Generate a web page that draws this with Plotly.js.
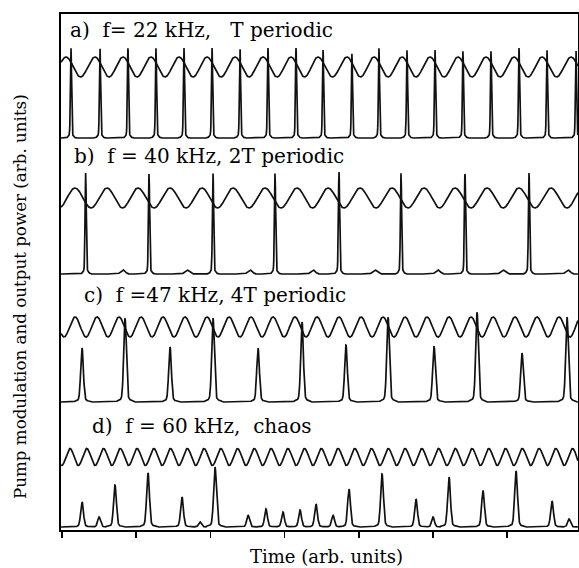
<!DOCTYPE html>
<html><head><meta charset="utf-8">
<script src="https://cdn.plot.ly/plotly-3.0.1.min.js"></script>
<style>html,body{margin:0;padding:0;background:#fff}</style>
</head><body><div id="chart" style="width:579px;height:568px"></div>
<script>
// ---------- data (time in arb. units, tick spacing = 1; amplitudes in arb. units) ----------
const panelLabels = [
  "a)\u00A0\u00A0f= 22 kHz,\u00A0\u00A0\u00A0T periodic",
  "b)\u00A0\u00A0f = 40 kHz, 2T periodic",
  "c)\u00A0\u00A0f =47 kHz, 4T periodic",
  "d)\u00A0\u00A0f = 60 kHz,\u00A0\u00A0chaos"
];
const xTitle = "Time (arb. units)";
const yTitle = "Pump modulation and output power (arb. units)";
const xTickValues = [0, 1, 2, 3, 4, 5, 6];

// a) 22 kHz, T periodic
const aModPeaks = [0.054,0.445,0.822,1.199,1.577,1.954,2.332,2.709,3.086,3.450,3.841,4.205,4.582,4.960,5.337,5.714,6.092,6.469,6.860];
const aSpikeTimes = [0.121,0.512,0.889,1.267,1.644,2.022,2.399,2.776,3.154,3.518,3.908,4.272,4.650,5.027,5.404,5.782,6.159,6.536,6.927];
const aSpikeHeights = [90,90,90,90,90,90,90,90,90,88,85,90,88,88,88,88,90,88,88];

// b) 40 kHz, 2T periodic
const bModPeaks = [0.175,0.606,1.024,1.456,1.887,2.305,2.736,3.167,3.585,4.016,4.447,4.879,5.296,5.728,6.159,6.590];
const bSpikeTimes = [0.319,1.173,2.035,2.871,3.733,4.569,5.431,6.294];
const bSpikeHeights = [101,101,101,101,103,101,101,101];
const bBumpTimes = [0.822,1.685,2.534,3.383,4.218,5.067,5.943,6.819];
const bBumpHeights = [4,4,4,4,4,4,4,4];

// c) 47 kHz, 4T periodic
const cModPeaks = [0.175,0.472,0.768,1.065,1.361,1.658,1.954,2.251,2.547,2.844,3.140,3.437,3.733,4.030,4.326,4.623,4.919,5.216,5.512,5.809,6.105,6.402,6.698];
const cSpikeTimes = [0.270,0.849,1.456,2.035,2.642,3.235,3.827,4.394,5.013,5.593,6.199,6.806];
const cSpikeHeights = [54,84,55,84,54,80,57,85,56,90,49,85];

// d) 60 kHz, chaos
const dModPeaks = [0.108,0.333,0.559,0.785,1.011,1.237,1.462,1.688,1.914,2.140,2.365,2.591,2.817,3.043,3.268,3.494,3.720,3.946,4.171,4.397,4.623,4.849,5.074,5.300,5.526,5.752,5.977,6.203,6.429,6.655,6.880];
const dSpikeTimes = [0.270,0.499,0.714,1.159,1.617,1.860,2.062,2.507,2.749,2.978,3.208,3.423,3.652,3.868,4.313,4.771,5.000,5.216,5.674,6.119,6.604,6.833];
const dSpikeHeights = [25,10,42,54,30,5,60,12,18,15,17,23,12,38,53,28,10,50,36,56,26,8];

// ---------- layout constants (positions / styles) ----------
const X0 = -0.0135, X1 = 6.954;           // x axis range
const STEP = 0.0027;                        // sampling step
const panels = [
  {mod: aModPeaks, st: aSpikeTimes, sh: aSpikeHeights, base: 392, mid: 463, amp: 10, sig: 0.0075, lab: [0.08, 500]},
  {mod: bModPeaks, st: bSpikeTimes, sh: bSpikeHeights, base: 256, mid: 332, amp: 10, sig: 0.0080, lab: [0.135, 374],
   bt: bBumpTimes, bh: bBumpHeights},
  {mod: cModPeaks, st: cSpikeTimes, sh: cSpikeHeights, base: 128, mid: 203, amp: 10, sig: 0.0175, lab: [0.27, 235]},
  {mod: dModPeaks, st: dSpikeTimes, sh: dSpikeHeights, base: 3,   mid: 73,  amp: 8.5, sig: 0.0185, lab: [0.377, 104]}
];

const grid = [];
for (let t = X0; t <= X1 + 1e-9; t += STEP) grid.push(+t.toFixed(5));

function modulation(peaks, mid, amp) {
  return grid.map(t => {
    let i = 0;
    while (i < peaks.length - 2 && t >= peaks[i + 1]) i++;
    const p0 = peaks[i], p1 = peaks[i + 1];
    const ph = (t - p0) / (p1 - p0);
    return mid + amp * Math.cos(2 * Math.PI * ph);
  });
}
function output(p) {
  return grid.map(t => {
    let y = p.base;
    for (let k = 0; k < p.st.length; k++) {
      const d = t - p.st[k];
      if (Math.abs(d) > 0.12) continue;
      const h = p.sh[k];
      y += h * (0.95 * Math.exp(-0.5 * (d / p.sig) ** 2) + 0.05 * Math.exp(-0.5 * (d / (p.sig * 3.5)) ** 2));
    }
    if (p.bt) for (let k = 0; k < p.bt.length; k++) {
      const d = t - p.bt[k];
      y += p.bh[k] * Math.exp(-0.5 * (d / 0.03) ** 2);
    }
    return y;
  });
}

const traces = [];
const annotations = [];
panels.forEach((p, i) => {
  traces.push({x: grid, y: modulation(p.mod, p.mid, p.amp), type: 'scatter', mode: 'lines',
    line: {color: '#111', width: 1.7}, hoverinfo: 'skip', showlegend: false});
  traces.push({x: grid, y: output(p), type: 'scatter', mode: 'lines',
    line: {color: '#111', width: 1.7}, hoverinfo: 'skip', showlegend: false});
  annotations.push({text: panelLabels[i], x: p.lab[0], y: p.lab[1], xref: 'x', yref: 'y',
    xanchor: 'left', yanchor: 'middle', showarrow: false,
    font: {family: 'DejaVu Serif, serif', size: 20, color: '#000'}});
});
annotations.push({text: xTitle, xref: 'paper', yref: 'paper', x: 0.5126, y: -0.0504,
  xanchor: 'center', yanchor: 'middle', showarrow: false,
  font: {family: 'DejaVu Serif, serif', size: 18, color: '#000'}});
annotations.push({text: yTitle, xref: 'paper', yref: 'paper', x: -0.0793, y: 0.4516, textangle: -90,
  xanchor: 'center', yanchor: 'middle', showarrow: false,
  font: {family: 'DejaVu Serif, serif', size: 16.7, color: '#000'}});

const layout = {
  width: 579, height: 568,
  margin: {l: 61, r: 1, t: 14, b: 38},
  paper_bgcolor: '#fff', plot_bgcolor: '#fff',
  showlegend: false,
  xaxis: {range: [X0, X1], tickvals: xTickValues, ticktext: xTickValues.map(() => ''),
    ticks: 'outside', ticklen: 6, tickwidth: 1.5, tickcolor: '#000',
    showline: true, linecolor: '#000', linewidth: 1.6, mirror: true,
    showgrid: false, zeroline: false},
  yaxis: {range: [0, 516], showticklabels: false, ticks: '',
    showline: true, linecolor: '#000', linewidth: 1.6, mirror: true,
    showgrid: false, zeroline: false},
  annotations: annotations
};

Plotly.newPlot('chart', traces, layout, {staticPlot: true, displayModeBar: false});
</script>
</body></html>
